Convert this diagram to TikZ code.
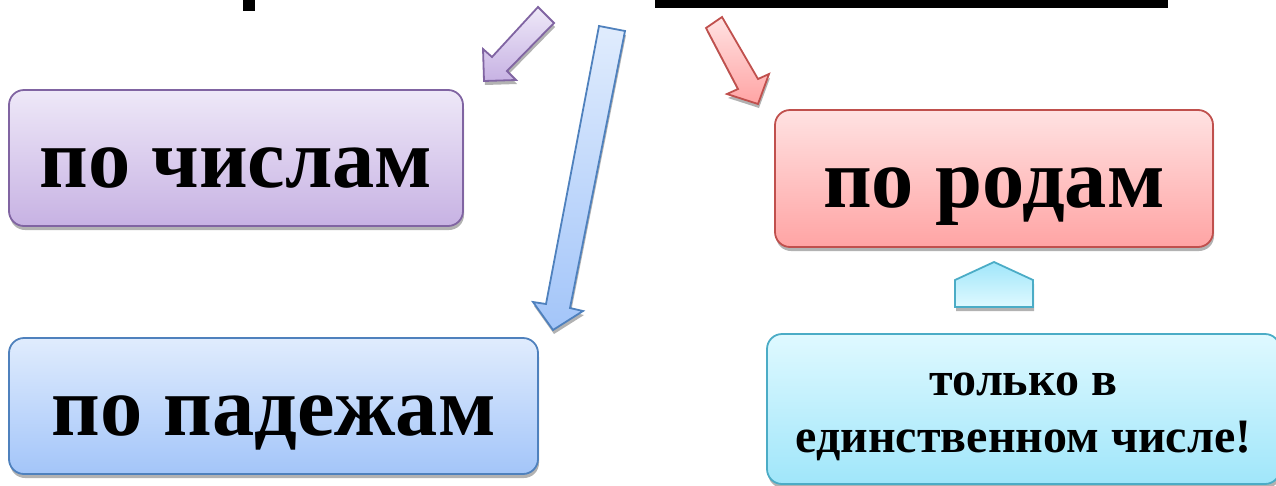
\documentclass[tikz,border=0pt]{standalone}
\usepackage{fontspec}
\setmainfont{Liberation Serif}
\usetikzlibrary{shadows}
\definecolor{purpB}{HTML}{8064A2}
\definecolor{purpT}{HTML}{EEE8F8}
\definecolor{purpD}{HTML}{C7B2E3}
\definecolor{redB}{HTML}{C0504D}
\definecolor{redT}{HTML}{FFE2E2}
\definecolor{redD}{HTML}{FFA4A4}
\definecolor{bluB}{HTML}{4F81BD}
\definecolor{bluT}{HTML}{E0ECFD}
\definecolor{bluD}{HTML}{A3C5F9}
\definecolor{cyaB}{HTML}{4BACC6}
\definecolor{cyaT}{HTML}{DFF9FF}
\definecolor{cyaD}{HTML}{A0E6FA}
\tikzset{
  shad/.style={drop shadow={shadow xshift=1pt,shadow yshift=-4pt,opacity=0.3,fill=black}},
  box/.style={shad,rounded corners=15pt,line width=1.8pt,inner sep=0pt,align=center,
    text height=58pt,text depth=0pt,
    font=\bfseries\fontsize{84.5}{90}\selectfont},
  smalltext/.style={inner sep=0pt,align=center,font=\bfseries\fontsize{48}{57}\selectfont},
  blockarrow/.style={shad,line width=1.8pt,line join=miter},
}
\begin{document}
\begin{tikzpicture}[x=1pt,y=-1pt]
\useasboundingbox (0,0) rectangle (1276,485);
% remnants at top
\fill[black] (243,0) rectangle (255,11);
\fill[black] (655,0) rectangle (1168,8);
% boxes
\node[box,draw=purpB,top color=purpT,bottom color=purpD,minimum width=454pt,minimum height=136pt] (chisla) at (236,158) {по числам};
\node[box,draw=redB,top color=redT,bottom color=redD,minimum width=438pt,minimum height=137pt] (roda) at (994,178.5) {по родам};
\node[box,draw=bluB,top color=bluT,bottom color=bluD,minimum width=529pt,minimum height=136pt] (padezhi) at (273.5,406) {по падежам};
\node[box,draw=cyaB,top color=cyaT,bottom color=cyaD,minimum width=513pt,minimum height=150pt] (ed) at (1023.5,409) {};
\node[smalltext] (edtext) at (1023.5,417) {только в\\единственном числе!};
% pentagon pointer
\draw[blockarrow,draw=cyaB,top color=cyaD,bottom color=cyaT] (955,280) -- (994,262) -- (1033,280) -- (1033,307) -- (955,307) -- cycle;
% block arrows
\draw[blockarrow,draw=purpB,top color=purpT,bottom color=purpD] (538,7) -- (554,23) -- (507,71) -- (516,80) -- (484,81) -- (483,49) -- (492,57) -- cycle;
\draw[blockarrow,draw=bluB,top color=bluT,bottom color=bluD] (599,26) -- (625,31) -- (570,308) -- (583,311) -- (553,330) -- (533,302) -- (546,304) -- cycle;
\draw[blockarrow,draw=redB,top color=redT,bottom color=redD] (706,28) -- (722,17) -- (758,79) -- (769,74) -- (758,104) -- (727,94) -- (738,89) -- cycle;
\end{tikzpicture}
\end{document}
